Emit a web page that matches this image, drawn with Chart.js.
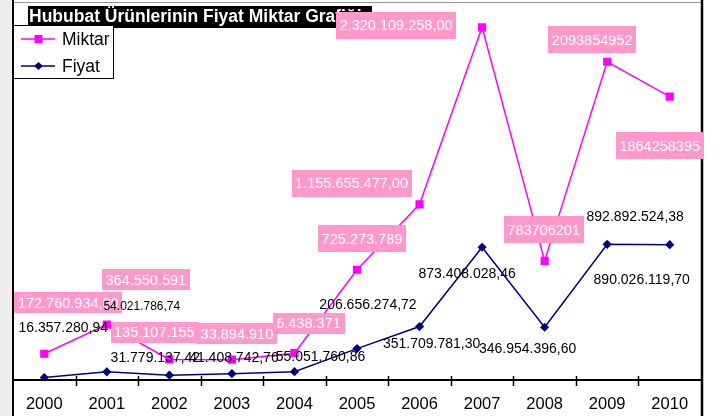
<!DOCTYPE html>
<html><head><meta charset="utf-8">
<script src="https://cdn.jsdelivr.net/npm/chart.js@4/dist/chart.umd.min.js"></script>
<style>html,body{margin:0;padding:0;background:#fff;overflow:hidden}#wrap{width:726px;height:416px;position:relative}</style>
</head><body><div id="wrap"><canvas id="c" width="726" height="416"></canvas></div>
<script>
// ---- data ----
const years = ['2000','2001','2002','2003','2004','2005','2006','2007','2008','2009','2010'];
const miktar = [172760934, 364550591, 135107155, 133894910, 176438371, 725273789, 1155655477, 2320109258, 783706201, 2093854952, 1864258395];
const fiyat = [16357280.94, 54021786.74, 31779137.42, 41408742.76, 55051760.86, 206656274.72, 351709781.30, 873408028.46, 346954396.60, 892892524.38, 890026119.70];
const miktarLabels = ['172.760.934,00','364.550.591','135.107.155','33.894.910','6.438.371','725.273.789','1.155.655.477,00','2.320.109.258,00','783706201','2093854952','1864258395'];
const fiyatLabels = ['16.357.280,94','54.021.786,74','31.779.137,42','41.408.742,76','55.051.760,86','206.656.274,72','351.709.781,30','873.408.028,46','346.954.396,60','892.892.524,38','890.026.119,70'];
const chartTitle = 'Hububat Ürünlerinin Fiyat Miktar Grafiği';
const seriesNames = ['Miktar', 'Fiyat'];
const yMax = 2500000000;

// ---- label placement (offsets from the point, px) ----
const miktarOffsets = [[24,-51],[39,-45],[-15,-27],[5,-26],[14,-30],[5,-31],[-68,-21],[-86,-2],[-1,-31],[-15,-22],[-10,49]];
const fiyatOffsets = [[19,-50],[35,-66],[-14,-18],[2,-17],[26,-15],[11,-44],[12,17],[-15,26],[-17,21],[28,-28],[-28,34]];

const FONT = "'Liberation Sans', Arial, sans-serif";
const PINK = '#ff99cc', MAGENTA = '#ff00ff', NAVY = '#000080';

const decor = {
  id: 'decor',
  beforeDraw(chart) {
    const ctx = chart.ctx, a = chart.chartArea;
    ctx.save();
    ctx.fillStyle = '#ffffff';
    ctx.fillRect(0, 0, chart.width, chart.height);
    ctx.fillStyle = '#eeeeee';
    ctx.fillRect(0, 0, a.left, chart.height);
    ctx.restore();
  },
  afterDatasetsDraw(chart) {
    const ctx = chart.ctx, a = chart.chartArea;
    ctx.save();
    // frame
    ctx.strokeStyle = '#999999'; ctx.lineWidth = 1;
    ctx.beginPath(); ctx.moveTo(a.left, 2.5); ctx.lineTo(a.right, 2.5); ctx.stroke();
    ctx.strokeStyle = '#000'; ctx.lineWidth = 2;
    ctx.beginPath(); ctx.moveTo(a.left, 0); ctx.lineTo(a.left, chart.height); ctx.stroke();
    ctx.lineWidth = 2.5;
    ctx.beginPath(); ctx.moveTo(a.right + 1, 0); ctx.lineTo(a.right + 1, chart.height); ctx.stroke();
    // tick marks between categories
    const step = (a.right - a.left) / years.length;
    ctx.lineWidth = 1.5;
    for (let i = 1; i < years.length; i++) {
      const x = Math.round(a.left + i * step) + 0.5;
      ctx.beginPath(); ctx.moveTo(x, a.bottom - 4); ctx.lineTo(x, a.bottom + 6); ctx.stroke();
    }
    // title
    ctx.fillStyle = '#000';
    ctx.fillRect(a.left + 15, 6, 344, 22);
    ctx.fillStyle = '#fff';
    ctx.font = 'bold 17.5px ' + FONT;
    ctx.textBaseline = 'middle'; ctx.textAlign = 'left';
    ctx.fillText(chartTitle, a.left + 16, 17.5);

    // Miktar labels (pink boxes)
    const m0 = chart.getDatasetMeta(0), m1 = chart.getDatasetMeta(1);
    ctx.font = '14.5px ' + FONT;
    ctx.textAlign = 'center';
    miktarLabels.forEach((t, i) => {
      const p = m0.data[i];
      const cx = p.x + miktarOffsets[i][0], cy = p.y + miktarOffsets[i][1];
      const w = ctx.measureText(t).width + 7;
      const h = i < 5 ? 21 : 27;
      ctx.fillStyle = PINK;
      ctx.fillRect(Math.round(cx - w / 2), Math.round(cy - h / 2), Math.round(w), h);
      ctx.fillStyle = '#fff';
      ctx.fillText(t, cx, cy + 1);
    });
    // Fiyat labels (black text)
    ctx.fillStyle = '#000';
    fiyatLabels.forEach((t, i) => {
      const p = m1.data[i];
      ctx.font = (i === 1 ? '12px ' : '14px ') + FONT;
      ctx.fillText(t, p.x + fiyatOffsets[i][0], p.y + fiyatOffsets[i][1] + 1);
    });

    // legend
    ctx.fillStyle = '#fff'; ctx.strokeStyle = '#000'; ctx.lineWidth = 1;
    ctx.fillRect(a.left + 0.5, 25.5, 100, 53);
    ctx.strokeRect(a.left + 0.5, 25.5, 100, 53);
    const items = [[seriesNames[0], MAGENTA, 'sq', 39], [seriesNames[1], NAVY, 'dia', 66]];
    items.forEach(([name, col, shape, y]) => {
      ctx.strokeStyle = col; ctx.lineWidth = 1.5;
      ctx.beginPath(); ctx.moveTo(a.left + 8, y); ctx.lineTo(a.left + 42, y); ctx.stroke();
      ctx.fillStyle = col;
      const cx = a.left + 25.5;
      if (shape === 'sq') { ctx.fillRect(cx - 4, y - 4, 8, 8); }
      else { ctx.beginPath(); ctx.moveTo(cx - 4.5, y); ctx.lineTo(cx, y - 4); ctx.lineTo(cx + 4.5, y); ctx.lineTo(cx, y + 4); ctx.closePath(); ctx.fill(); }
      ctx.fillStyle = '#000'; ctx.font = '17.5px ' + FONT; ctx.textAlign = 'left'; ctx.textBaseline = 'middle';
      ctx.fillText(name, a.left + 49, y + 1);
    });
    ctx.restore();
  }
};

new Chart(document.getElementById('c'), {
  type: 'line',
  data: {
    labels: years,
    datasets: [
      { label: seriesNames[0], data: miktar, borderColor: MAGENTA, backgroundColor: MAGENTA, borderWidth: 1.5,
        pointStyle: 'rect', pointRadius: 5.8, pointBorderWidth: 0, tension: 0 },
      { label: seriesNames[1], data: fiyat, borderColor: NAVY, backgroundColor: NAVY, borderWidth: 1.5,
        pointStyle: 'rectRot', pointRadius: 4.6, pointBorderWidth: 0, tension: 0 }
    ]
  },
  options: {
    responsive: false, animation: false, devicePixelRatio: 1,
    layout: { autoPadding: false, padding: { left: 13, right: 25, top: 0, bottom: 0 } },
    plugins: { legend: { display: false }, title: { display: false }, tooltip: { enabled: false } },
    scales: {
      x: {
        offset: true,
        grid: { display: false, drawTicks: false },
        border: { display: true, color: '#000', width: 2 },
        ticks: { color: '#000', font: { family: FONT, size: 16.5 }, padding: 15, maxRotation: 0 },
        afterFit(s) { s.height = 36; }
      },
      y: { display: false, min: 0, max: yMax }
    }
  },
  plugins: [decor]
});
</script></body></html>
